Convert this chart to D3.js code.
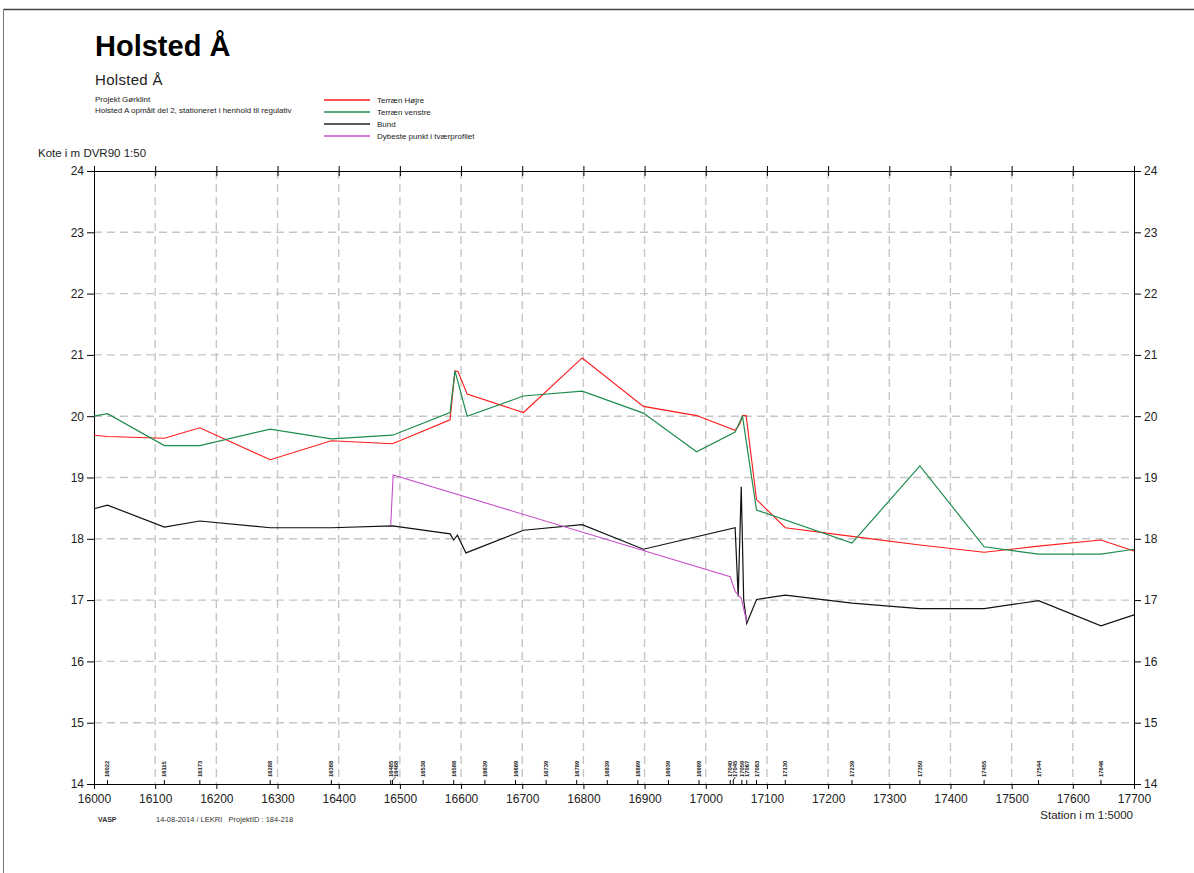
<!DOCTYPE html>
<html>
<head>
<meta charset="utf-8">
<script src="https://cdn.jsdelivr.net/npm/d3@7/dist/d3.min.js"></script>
<style>
  html, body { margin: 0; padding: 0; background: #fff; }
  svg { display: block; font-family: "Liberation Sans", Arial, sans-serif; }
</style>
</head>
<body>
<svg id="chart" width="1194" height="873"></svg>
<script>
// Længdeprofil, Holsted Å – station (m) mod kote (m DVR90)

// Profilstationer vist langs bunden af diagrammet
const profilStationer = [16022, 16115, 16173, 16288, 16388, 16485, 16488, 16538, 16588, 16639,
  16689, 16739, 16789, 16839, 16889, 16939, 16989, 17040, 17045, 17059, 17067, 17083,
  17130, 17239, 17350, 17455, 17544, 17646];

// Terræn Højre
const hoejreStation = [16000, 16022, 16115, 16173, 16288, 16388, 16488, 16582, 16590, 16595,
  16610, 16702, 16798, 16898, 16985, 17048, 17056, 17060, 17066, 17083, 17130, 17239,
  17350, 17455, 17544, 17646, 17700];
const hoejreKote = [19.69, 19.67, 19.64, 19.81, 19.29, 19.60, 19.55, 19.94, 20.74, 20.73,
  20.36, 20.06, 20.95, 20.16, 20.01, 19.77, 19.88, 20.01, 20.01, 18.64, 18.18, 18.04,
  17.90, 17.78, 17.88, 17.98, 17.80];

// Terræn venstre
const venstreStation = [16000, 16022, 16115, 16173, 16288, 16388, 16488, 16582, 16590, 16610,
  16702, 16798, 16898, 16985, 17048, 17060, 17083, 17239, 17350, 17455, 17544, 17646, 17700];
const venstreKote = [20.00, 20.04, 19.52, 19.52, 19.79, 19.63, 19.69, 20.06, 20.74, 20.00,
  20.33, 20.41, 20.05, 19.42, 19.74, 20.00, 18.47, 17.93, 19.19, 17.87, 17.75, 17.75, 17.83];

// Bund
const bundStation = [16000, 16022, 16115, 16173, 16288, 16388, 16488, 16582, 16588, 16594,
  16608, 16702, 16798, 16898, 17048, 17053, 17058, 17062, 17067, 17083, 17130, 17239,
  17350, 17455, 17544, 17646, 17700];
const bundKote = [18.49, 18.55, 18.19, 18.29, 18.18, 18.18, 18.21, 18.08, 17.98, 18.06,
  17.77, 18.14, 18.23, 17.83, 18.18, 17.06, 18.85, 17.00, 16.62, 17.01, 17.08, 16.95,
  16.86, 16.86, 16.99, 16.58, 16.76];

// Dybeste punkt i tværprofilet
const dybStation = [16485, 16489, 17040, 17048, 17058, 17067];
const dybKote = [18.22, 19.04, 17.38, 17.14, 17.03, 16.65];

const serier = [
  { navn: "Terræn Højre", st: hoejreStation, v: hoejreKote, farve: "#ff1a1a", bredde: 1.1 },
  { navn: "Terræn venstre", st: venstreStation, v: venstreKote, farve: "#1d8c4e", bredde: 1.2 },
  { navn: "Bund", st: bundStation, v: bundKote, farve: "#111111", bredde: 1.2 },
  { navn: "Dybeste punkt i tværprofilet", st: dybStation, v: dybKote, farve: "#c84ec8", bredde: 1.1 }
];

const koteTicks = d3.range(14, 25);
const stationTicks = d3.range(16000, 17701, 100);

const svg = d3.select("#chart");
const font = "'Liberation Sans', Arial, sans-serif";

const x = d3.scaleLinear().domain([16000, 17700]).range([94, 1134]);
const y = d3.scaleLinear().domain([14, 24]).range([784, 171]);

// Sideramme
svg.append("line").attr("x1", 3.5).attr("x2", 1194).attr("y1", 9.5).attr("y2", 9.5)
  .attr("stroke", "#444").attr("stroke-width", 1.5);
svg.append("line").attr("x1", 3.5).attr("x2", 3.5).attr("y1", 9).attr("y2", 873)
  .attr("stroke", "#777").attr("stroke-width", 1);

// Overskrifter
svg.append("text").attr("x", 95).attr("y", 56).text("Holsted Å")
  .attr("font-size", 29).attr("font-weight", "bold").attr("fill", "#000");
svg.append("text").attr("x", 95).attr("y", 85).text("Holsted Å")
  .attr("font-size", 15).attr("fill", "#222").attr("letter-spacing", 0.3);
svg.append("text").attr("x", 95).attr("y", 102).text("Projekt Gørklint")
  .attr("font-size", 8).attr("fill", "#222");
svg.append("text").attr("x", 95).attr("y", 113).text("Holsted A opmålt del 2, stationeret i henhold til regulativ")
  .attr("font-size", 8).attr("fill", "#222");

// Signaturforklaring
const legend = svg.append("g");
serier.forEach((s, i) => {
  const ly = 100 + i * 12;
  legend.append("line").attr("x1", 324).attr("x2", 370).attr("y1", ly).attr("y2", ly)
    .attr("stroke", s.navn === "Bund" ? "#5a5a5a" : s.farve)
    .attr("stroke-width", s.navn === "Bund" ? 2.2 : 1.4);
  legend.append("text").attr("x", 377).attr("y", ly + 3).text(s.navn)
    .attr("font-size", 8).attr("fill", "#222");
});

// Aksetitler
svg.append("text").attr("x", 38).attr("y", 157).text("Kote i m DVR90 1:50")
  .attr("font-size", 11.5).attr("fill", "#222");
svg.append("text").attr("x", 1133).attr("y", 819).attr("text-anchor", "end")
  .text("Station i m  1:5000").attr("font-size", 11.5).attr("fill", "#222");

// Gitter
const grid = svg.append("g").attr("stroke", "#c6c6c6").attr("stroke-width", 1.4)
  .attr("stroke-dasharray", "8,5");
grid.selectAll("line.h").data(koteTicks.filter(k => k > 14 && k < 24)).join("line")
  .attr("x1", x(16000)).attr("x2", x(17700)).attr("y1", d => y(d)).attr("y2", d => y(d));
grid.selectAll("line.v").data(stationTicks.filter(s => s > 16000 && s < 17700)).join("line")
  .attr("class", "v")
  .attr("x1", d => x(d)).attr("x2", d => x(d)).attr("y1", y(24)).attr("y2", y(14));

// Akser
function styleAxis(g) {
  g.selectAll(".domain").attr("stroke", "#000").attr("stroke-width", 1);
  g.selectAll(".tick line").attr("stroke", "#000");
  g.selectAll(".tick text").attr("font-family", font).attr("font-size", 12).attr("fill", "#222");
}

svg.append("g").attr("transform", `translate(0,${y(14)})`)
  .call(d3.axisBottom(x).tickValues(stationTicks).tickFormat(d3.format("d")).tickSize(5).tickPadding(5).tickSizeOuter(0))
  .call(styleAxis);

svg.append("g").attr("transform", `translate(0,${y(24)})`)
  .call(d3.axisTop(x).tickValues(stationTicks).tickFormat("").tickSize(5).tickSizeOuter(0))
  .call(styleAxis)
  .call(g => g.selectAll(".tick line").attr("y1", 5).attr("y2", -5));

svg.append("g").attr("transform", `translate(${x(16000)},0)`)
  .call(d3.axisLeft(y).tickValues(koteTicks).tickFormat(d3.format("d")).tickSize(7).tickPadding(3).tickSizeOuter(0))
  .call(styleAxis);

svg.append("g").attr("transform", `translate(${x(17700)},0)`)
  .call(d3.axisRight(y).tickValues(koteTicks).tickFormat(d3.format("d")).tickSize(7).tickPadding(3).tickSizeOuter(0))
  .call(styleAxis);

// Profilstationer: små lodrette mærker og roterede etiketter
const stGroup = svg.append("g");
let forrige = -Infinity;
profilStationer.forEach(s => {
  const px = x(s);
  const lx = Math.max(px, forrige + 5);
  forrige = lx;
  stGroup.append("line").attr("x1", px).attr("x2", px).attr("y1", y(14)).attr("y2", y(14) - 4)
    .attr("stroke", "#000").attr("stroke-width", 1);
  if (lx - px > 1) {
    stGroup.append("line").attr("x1", px).attr("x2", lx).attr("y1", y(14) - 4).attr("y2", y(14) - 7)
      .attr("stroke", "#000").attr("stroke-width", 0.8);
  }
  stGroup.append("text")
    .attr("transform", `translate(${lx + 2},${y(14) - 7}) rotate(-90)`)
    .text(s).attr("font-size", 5.8).attr("font-weight", "bold").attr("fill", "#222");
});

// Kurver
const line = d3.line().x(d => x(d[0])).y(d => y(d[1]));
const plot = svg.append("g");
serier.forEach(s => {
  const pts = s.st.map((st, i) => [st, s.v[i]]);
  plot.append("path").datum(pts).attr("d", line)
    .attr("fill", "none").attr("stroke", s.farve).attr("stroke-width", s.bredde)
    .attr("stroke-linejoin", "miter");
});

// Sidefod
svg.append("text").attr("x", 98).attr("y", 822).text("VASP")
  .attr("font-size", 7).attr("font-weight", "bold").attr("fill", "#333");
svg.append("text").attr("x", 156).attr("y", 822).text("14-08-2014 / LEKRI   ProjektID : 184-218")
  .attr("font-size", 7.5).attr("fill", "#333").attr("xml:space", "preserve").style("white-space", "pre");
</script>
</body>
</html>
